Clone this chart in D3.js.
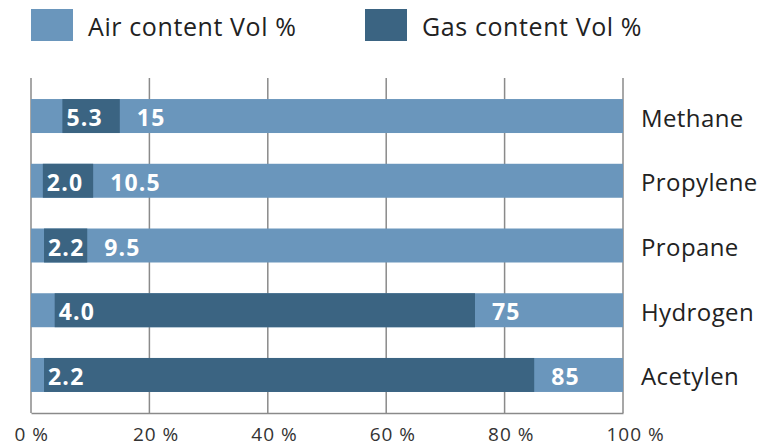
<!DOCTYPE html>
<html>
<head>
<meta charset="utf-8">
<script src="https://cdn.jsdelivr.net/npm/d3@7/dist/d3.min.js"></script>
<style>
  html, body { margin: 0; padding: 0; background: #fff; }
  svg { display: block; font-family: "Open Sans", "Noto Sans", sans-serif; }
</style>
</head>
<body>
<svg id="chart" width="768" height="448"></svg>
<script>
// Explosive limits of common gases in air (Vol %)
const gases = ["Methane", "Propylene", "Propane", "Hydrogen", "Acetylen"];
const lowerLimit = [5.3, 2.0, 2.2, 4.0, 2.2];
const upperLimit = [15, 10.5, 9.5, 75, 85];
const xTicks = [0, 20, 40, 60, 80, 100];
const legendLabels = ["Air content Vol %", "Gas content Vol %"];

const airColor = "#6a96bc";
const gasColor = "#3b6482";

const svg = d3.select("#chart");

const x = d3.scaleLinear().domain([0, 100]).range([31, 623]);
const y = d3.scaleBand().domain(gases).range([78, 413])
  .paddingInner(0.475).paddingOuter(0.325);

const rows = gases.map((g, i) => ({ name: g, lo: lowerLimit[i], hi: upperLimit[i] }));

// vertical grid lines
svg.append("g").selectAll("line").data(xTicks).join("line")
  .attr("x1", d => x(d)).attr("x2", d => x(d))
  .attr("y1", 78).attr("y2", 413)
  .attr("stroke", "#8a8a8a").attr("stroke-width", 1.5);

// full-width air bars
svg.append("g").selectAll("rect").data(rows).join("rect")
  .attr("x", x(0)).attr("y", d => y(d.name))
  .attr("width", x(100) - x(0)).attr("height", y.bandwidth())
  .attr("fill", airColor);

// gas segment between lower and upper explosive limit
svg.append("g").selectAll("rect").data(rows).join("rect")
  .attr("x", d => x(d.lo)).attr("y", d => y(d.name))
  .attr("width", d => x(d.hi) - x(d.lo)).attr("height", y.bandwidth())
  .attr("fill", gasColor);

// value labels
const vl = svg.append("g").attr("fill", "#fff").attr("font-weight", 700)
  .attr("font-size", 23).attr("letter-spacing", 1.2).attr("dominant-baseline", "central");
vl.selectAll("text.lo").data(rows).join("text").attr("class", "lo")
  .attr("x", d => x(d.lo) + 4).attr("y", d => y(d.name) + y.bandwidth() / 2 + 1)
  .text(d => d3.format(".1f")(d.lo));
vl.selectAll("text.hi").data(rows).join("text").attr("class", "hi")
  .attr("x", d => x(d.hi) + 17).attr("y", d => y(d.name) + y.bandwidth() / 2 + 1)
  .text(d => String(d.hi));

// category labels on the right
svg.append("g").selectAll("text").data(gases).join("text")
  .attr("x", 641).attr("y", d => y(d) + y.bandwidth() / 2 + 1)
  .attr("dominant-baseline", "central")
  .attr("font-size", 24).attr("font-weight", 500).attr("letter-spacing", 0.4).attr("fill", "#222")
  .text(d => d);

// bottom axis
const axis = svg.append("g").attr("transform", "translate(0,413)")
  .call(d3.axisBottom(x).tickValues(xTicks).tickSize(0).tickFormat(d => d + " %"));
axis.select(".domain").attr("stroke", "#8a8a8a").attr("stroke-width", 1.5);
axis.selectAll("text")
  .attr("font-family", "'Open Sans', sans-serif")
  .attr("font-size", 19).attr("font-weight", 500).attr("letter-spacing", 1).attr("fill", "#333")
  .attr("text-anchor", "start").attr("dx", -17).attr("dy", 0).attr("y", 28);

// legend
const legendColors = [airColor, gasColor];
const legendX = [31, 365];
const lg = svg.append("g").selectAll("g").data(legendLabels).join("g")
  .attr("transform", (d, i) => `translate(${legendX[i]},9)`);
lg.append("rect").attr("width", 42).attr("height", 32).attr("fill", (d, i) => legendColors[i]);
lg.append("text").attr("x", 57).attr("y", 17).attr("dominant-baseline", "central")
  .attr("font-size", 25).attr("font-weight", 500).attr("letter-spacing", 0.6)
  .attr("fill", "#222").text(d => d);
</script>
</body>
</html>
